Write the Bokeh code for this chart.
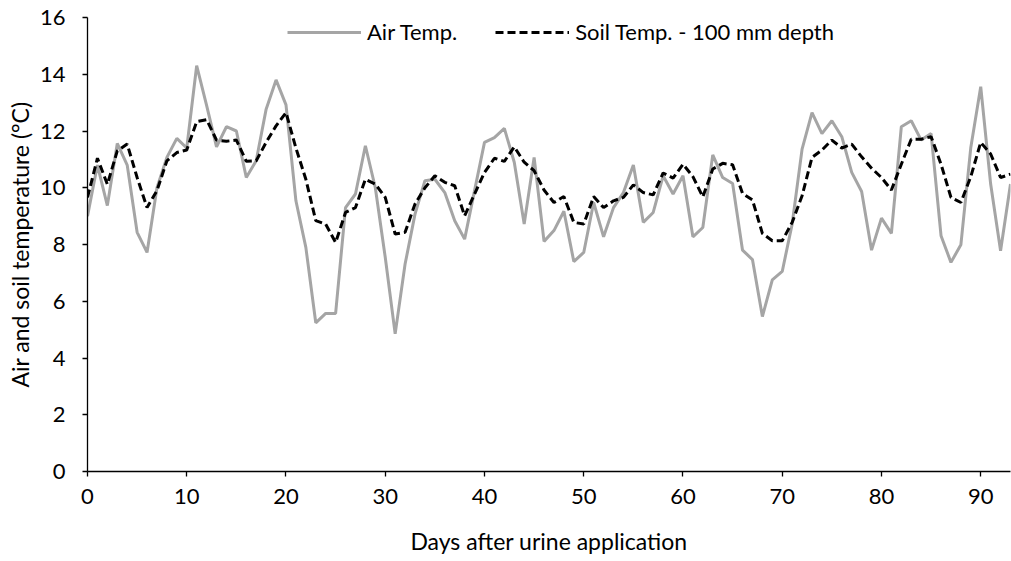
from bokeh.plotting import figure
from bokeh.models import Range1d, ColumnDataSource, Legend, LegendItem, FixedTicker
from bokeh.embed import file_html
from bokeh.resources import INLINE

days = list(range(0, 94))

air_temp = [9.0, 10.8, 9.37, 11.56, 10.8, 8.43, 7.72, 10.0, 11.07, 11.74,
            11.4, 14.3, 12.9, 11.44, 12.15, 12.0, 10.36, 10.95, 12.77, 13.8,
            12.92, 9.54, 7.9, 5.24, 5.57, 5.57, 9.3, 9.78, 11.48, 10.0,
            7.55, 4.85, 7.31, 9.07, 10.25, 10.3, 9.83, 8.84, 8.19, 9.9,
            11.6, 11.77, 12.09, 10.9, 8.72, 11.07, 8.11, 8.49, 9.17, 7.4,
            7.72, 9.48, 8.27, 9.3, 9.83, 10.8, 8.78, 9.13, 10.42, 9.78,
            10.42, 8.27, 8.6, 11.16, 10.36, 10.15, 7.8, 7.47, 5.46, 6.75,
            7.05, 8.72, 11.36, 12.65, 11.91, 12.36, 11.8, 10.54, 9.87, 7.8,
            8.93, 8.39, 12.15, 12.36, 11.68, 11.91, 8.31, 7.37, 7.99, 11.42,
            13.56, 10.13, 7.78, 10.13]

soil_temp = [9.66, 11.04, 10.12, 11.3, 11.54, 10.36, 9.3, 9.9, 10.95, 11.24,
             11.33, 12.33, 12.4, 11.68, 11.64, 11.68, 10.93, 10.95, 11.6, 12.18,
             12.65, 11.4, 10.3, 8.84, 8.72, 8.07, 9.13, 9.3, 10.3, 10.13,
             9.66, 8.37, 8.43, 9.43, 10.0, 10.42, 10.19, 10.07, 9.01, 9.78,
             10.54, 11.04, 10.93, 11.44, 10.9, 10.6, 9.92, 9.48, 9.69, 8.78,
             8.72, 9.69, 9.3, 9.54, 9.66, 10.1, 9.83, 9.75, 10.52, 10.34,
             10.83, 10.39, 9.68, 10.66, 10.86, 10.81, 9.8, 9.57, 8.39, 8.13,
             8.13, 8.78, 9.72, 11.07, 11.33, 11.68, 11.4, 11.54, 11.09, 10.69,
             10.36, 9.92, 10.83, 11.71, 11.71, 11.8, 10.83, 9.66, 9.48, 10.39,
             11.6, 11.19, 10.36, 10.48]

x_ticks = [0, 10, 20, 30, 40, 50, 60, 70, 80, 90]
y_ticks = [0, 2, 4, 6, 8, 10, 12, 14, 16]

FONT = "Lato"

p = figure(width=1011, height=561, output_backend="svg", toolbar_location=None,
           x_range=Range1d(0, 93), y_range=Range1d(0, 16))
p.min_border_left = 87
p.min_border_right = 1
p.min_border_top = 17
p.min_border_bottom = 90
p.outline_line_color = None
p.xgrid.grid_line_color = None
p.ygrid.grid_line_color = None

src = ColumnDataSource(dict(day=days, air=air_temp, soil=soil_temp))
r_air = p.line("day", "air", source=src, line_color="#A5A5A5", line_width=3)
r_soil = p.line("day", "soil", source=src, line_color="black", line_width=3,
                line_dash="8 4")

for ax in (p.xaxis[0], p.yaxis[0]):
    ax.axis_line_color = "black"
    ax.axis_line_width = 1.3
    ax.major_tick_line_color = "black"
    ax.major_tick_line_width = 1.3
    ax.major_tick_in = 0
    ax.major_tick_out = 5
    ax.minor_tick_line_color = None
    ax.major_label_text_font = FONT
    ax.major_label_text_font_size = "22px"
    ax.major_label_text_color = "black"
    ax.axis_label_text_font = FONT
    ax.axis_label_text_font_size = "23px"
    ax.axis_label_text_font_style = "normal"
    ax.axis_label_text_color = "black"

p.xaxis[0].ticker = FixedTicker(ticks=x_ticks)
p.yaxis[0].ticker = FixedTicker(ticks=y_ticks)
p.xaxis[0].axis_label = "Days after urine application"
p.yaxis[0].axis_label = "Air and soil temperature (°C)"
p.xaxis[0].major_label_standoff = 12
p.xaxis[0].axis_label_standoff = 20
p.yaxis[0].major_label_standoff = 17
p.yaxis[0].axis_label_standoff = 3

legend = Legend(items=[LegendItem(label="Air Temp.", renderers=[r_air]),
                       LegendItem(label="Soil Temp. - 100 mm depth", renderers=[r_soil])],
                orientation="horizontal")
legend.location = (200, 426)
legend.background_fill_alpha = 0
legend.border_line_color = None
legend.glyph_width = 74
legend.glyph_height = 20
legend.label_text_font = FONT
legend.label_text_font_size = "22px"
legend.label_text_color = "black"
legend.spacing = 38
legend.label_standoff = 6
legend.padding = 0
legend.margin = 0
p.add_layout(legend, "center")

open("out.html", "w").write(file_html(p, INLINE))
